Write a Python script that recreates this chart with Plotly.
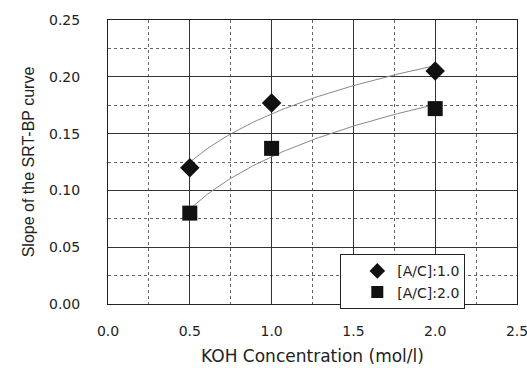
import numpy as np
import plotly.graph_objects as go

koh = [0.5, 1.0, 2.0]
slope_ac1 = [0.120, 0.177, 0.205]
slope_ac2 = [0.080, 0.137, 0.172]
series_names = ["[A/C]:1.0", "[A/C]:2.0"]
x_ticks = [0.0, 0.5, 1.0, 1.5, 2.0, 2.5]
y_ticks = [0.00, 0.05, 0.10, 0.15, 0.20, 0.25]

W, H = 527, 368
ML, MR, MT, MB = 108, 10, 20, 64

fig = go.Figure()

def log_fit(xs, ys):
    b, a = np.polyfit(np.log(xs), ys, 1)
    xx = np.linspace(min(xs), max(xs), 60)
    return xx, a + b * np.log(xx)

for ys in (slope_ac1, slope_ac2):
    xx, yy = log_fit(koh, ys)
    fig.add_trace(go.Scatter(x=xx, y=yy, mode="lines",
                             line=dict(color="#888888", width=1),
                             showlegend=False, hoverinfo="skip"))

fig.add_trace(go.Scatter(x=koh, y=slope_ac1, mode="markers", name=series_names[0],
                         marker=dict(symbol="diamond", size=15, color="#111111")))
fig.add_trace(go.Scatter(x=koh, y=slope_ac2, mode="markers", name=series_names[1],
                         marker=dict(symbol="square", size=15, color="#111111")))

tickfont = dict(family="DejaVu Sans", size=14, color="#222222")
fig.update_layout(
    width=W, height=H,
    margin=dict(l=ML, r=MR, t=MT, b=MB, autoexpand=False),
    paper_bgcolor="white", plot_bgcolor="white",
    font=dict(family="DejaVu Sans", color="#222222"),
    legend=dict(x=0.568, y=0.175, xanchor="left", yanchor="top",
                bordercolor="#222222", borderwidth=1, bgcolor="white",
                font=dict(family="DejaVu Sans", size=14, color="#222222"),
                indentation=16, tracegroupgap=0, itemsizing="constant",
                entrywidth=90),
)
fig.update_xaxes(range=[0, 2.5], tickvals=x_ticks, ticktext=[f"{v:.1f}" for v in x_ticks],
                 ticklabeloverflow="allow",
                 showgrid=True, gridcolor="#333333", gridwidth=1,
                 showline=True, linecolor="#222222", linewidth=1, mirror=True,
                 zeroline=False, ticks="", ticklabelstandoff=14, tickfont=tickfont,
                 minor=dict(dtick=0.25, showgrid=True, gridcolor="#666666", griddash="3px,3px", gridwidth=1),
                 title=dict(text="KOH Concentration (mol/l)", standoff=12,
                            font=dict(family="DejaVu Sans", size=17, color="#222222")))
fig.update_yaxes(range=[0, 0.25], tickvals=y_ticks, ticktext=[f"{v:.2f}" for v in y_ticks],
                 showgrid=True, gridcolor="#333333", gridwidth=1,
                 showline=True, linecolor="#222222", linewidth=1, mirror=True,
                 zeroline=False, ticks="", ticklabelstandoff=24, tickfont=tickfont,
                 minor=dict(dtick=0.025, showgrid=True, gridcolor="#666666", griddash="3px,3px", gridwidth=1),
                 title=dict(text="Slope of the SRT-BP curve", standoff=10,
                            font=dict(family="Liberation Sans Narrow, Liberation Sans", size=16, color="#222222")))

fig.write_html("out.html")
